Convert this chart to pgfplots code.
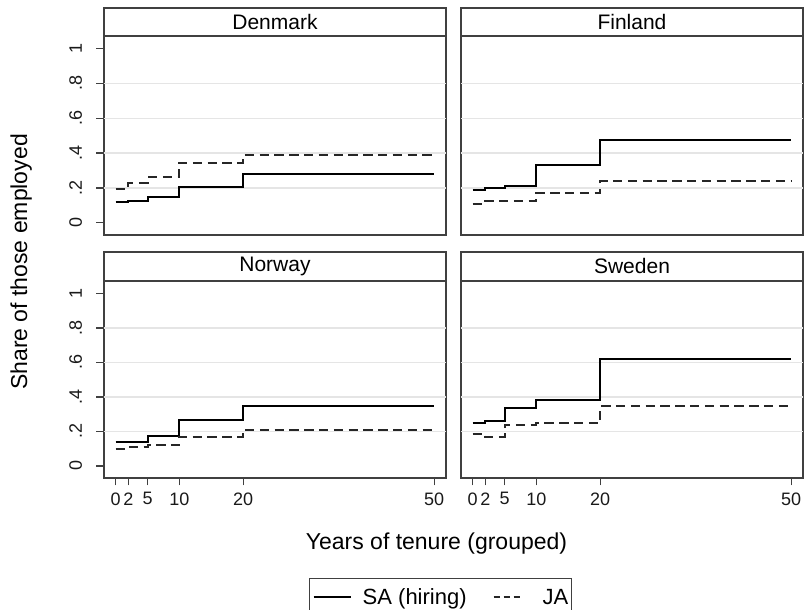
\documentclass[border=0pt]{standalone}
\usepackage{fontspec}
\setmainfont{Liberation Sans}
\usepackage{pgfplots}
\pgfplotsset{compat=1.18}
\pgfplotsset{
  panel/.style={
    scale only axis, width=171pt,
    xmin=-1.84, xmax=51.85, ymin=-0.07, ymax=1.072,
    axis line style={black!75, line width=0.6pt},
    tick align=outside, xtick pos=bottom, ytick pos=left,
    major tick length=3.75pt,
    tick style={black!75, line width=0.6pt},
    xtick={0,2,5,10,20,50},
    ytick={0,0.2,0.4,0.6,0.8,1},
    yticklabels={0,.2,.4,.6,.8,1},
    extra y ticks={0.2,0.4,0.6,0.8},
    extra y tick labels={},
    extra y tick style={grid=major, major tick length=0pt},
    grid style={black!10, line width=0.6pt},
    /pgf/number format/assume math mode=true,
    ticklabel style={font=\fontsize{9}{10}\selectfont, text=black!90},
    yticklabel style={rotate=90, anchor=south, inner sep=0pt, outer sep=0pt, yshift=7.25pt},
    clip=false,
  },
  sa/.style={black, line width=1pt, const plot, mark=none,
    legend image code/.code={\draw[##1] (0pt,1.4pt) -- (18.5pt,1.4pt);}},
  ja/.style={black!85, line width=1pt, const plot, mark=none, dash pattern=on 4.7pt off 2.7pt,
    legend image code/.code={\draw[##1, dash pattern=on 3pt off 2pt] (0pt,1.4pt) -- (13pt,1.4pt);}},
}
\begin{document}
\begin{tikzpicture}
% Denmark
\begin{axis}[panel, name=dk, at={(52pt,187.5pt)}, anchor=south west, height=99.5pt, xtick=\empty]
\addplot[sa] coordinates {(0,0.117) (2,0.125) (5,0.150) (10,0.206) (20,0.279) (50,0.279)};
\addplot[ja] coordinates {(0,0.194) (2,0.231) (5,0.263) (10,0.346) (20,0.388) (50,0.388)};
\end{axis}
% Finland
\begin{axis}[panel, name=fi, at={(230.5pt,187.5pt)}, anchor=south west, height=99.5pt, xtick=\empty, ytick=\empty]
\addplot[sa] coordinates {(0,0.188) (2,0.202) (5,0.213) (10,0.333) (20,0.477) (50,0.477)};
\addplot[ja] coordinates {(0,0.108) (2,0.127) (5,0.127) (10,0.173) (20,0.237) (50,0.237)};
\end{axis}
% Norway
\begin{axis}[panel, name=no, at={(52pt,66pt)}, anchor=south west, height=98.5pt,
  legend style={at={(0.984,-0.5076)}, anchor=north, draw=black!75, line width=0.6pt,
    inner xsep=1.5pt, inner ysep=4.9pt, legend columns=2,
    font=\fontsize{11}{13}\selectfont,
    nodes={inner sep=0pt, text height=8pt, text depth=3pt},
    /tikz/column 1/.style={column sep=5.5pt},
    /tikz/column 2/.style={column sep=13pt},
    /tikz/column 3/.style={column sep=11pt}},
  legend cell align=left]
\addplot[sa] coordinates {(0,0.137) (2,0.137) (5,0.173) (10,0.269) (20,0.350) (50,0.350)};
\addlegendentry{SA (hiring)}
\addplot[ja] coordinates {(0,0.100) (2,0.110) (5,0.123) (10,0.169) (20,0.208) (50,0.208)};
\addlegendentry{JA}
\end{axis}
% Sweden
\begin{axis}[panel, name=se, at={(230.5pt,66pt)}, anchor=south west, height=98.5pt, ytick=\empty]
\addplot[sa] coordinates {(0,0.246) (2,0.263) (5,0.333) (10,0.385) (20,0.617) (50,0.617)};
\addplot[ja] coordinates {(0,0.187) (2,0.167) (5,0.240) (10,0.246) (20,0.346) (50,0.346)};
\end{axis}
% strips
\foreach \ax/\lab/\h in {dk/Denmark/14pt, fi/Finland/14pt, no/Norway/14.5pt, se/Sweden/14.5pt}{
  \draw[black!75, line width=0.6pt] (\ax.north west) rectangle ([yshift=\h]\ax.north east);
  \node[font=\fontsize{10.5}{12}\selectfont, inner sep=0pt] at ([yshift=0.5*\h]\ax.north) {\lab};
}
\node[rotate=90, anchor=base, font=\fontsize{11.5}{13}\selectfont, inner sep=0pt] at (13.5pt,174pt) {Share of those employed};
\node[anchor=base, font=\fontsize{11.5}{13}\selectfont, inner sep=0pt] at (218.25pt,30pt) {Years of tenure (grouped)};
\pgfresetboundingbox
\path[use as bounding box] (0pt,0pt) rectangle (405pt,305pt);
\end{tikzpicture}
\end{document}
